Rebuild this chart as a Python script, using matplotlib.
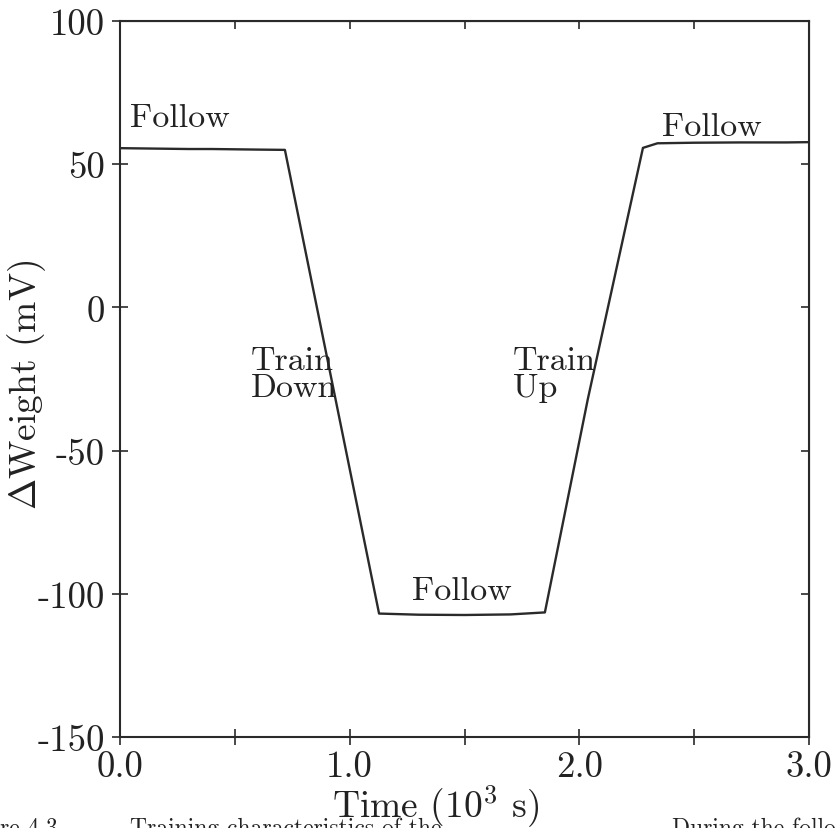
import matplotlib
matplotlib.use("Agg")
import matplotlib.pyplot as plt

plt.rcParams['font.family'] = ['cmr10', 'DejaVu Serif']
plt.rcParams['mathtext.fontset'] = 'cm'
plt.rcParams['axes.unicode_minus'] = False

time = [0.0, 0.1, 0.2, 0.3, 0.4, 0.5, 0.6, 0.718, 1.128, 1.3, 1.5, 1.7, 1.85,
        2.037, 2.277, 2.34, 2.5, 2.7, 2.9, 3.0]
weight = [55.6, 55.5, 55.4, 55.3, 55.3, 55.2, 55.1, 55.0, -106.9, -107.3, -107.4,
          -107.2, -106.5, -32.0, 55.7, 57.3, 57.5, 57.6, 57.6, 57.7]

xticks = [0.0, 1.0, 2.0, 3.0]
xticklabels = ['0.0', '1.0', '2.0', '3.0']
xminor = [0.5, 1.5, 2.5]
yticks = [-150, -100, -50, 0, 50, 100]
yticklabels = ['-150', '-100', '-50', '0', '50', '100']

labels = [("Follow", 0.044, 63.3), ("Follow", 2.36, 60.2), ("Follow", 1.271, -101.8),
          ("Train", 0.57, -21.5), ("Down", 0.57, -31.0),
          ("Train", 1.71, -21.5), ("Up", 1.71, -31.0)]

fig = plt.figure(figsize=(8.35, 8.29), dpi=100)
ax = fig.add_axes([120/835, 1-738/829, (809-120)/835, (738-22)/829])
ink = '#2a2a2a'
ax.plot(time, weight, color=ink, lw=1.7)
ax.set_xlim(0, 3)
ax.set_ylim(-150, 100)
ax.set_xticks(xticks)
ax.set_xticklabels(xticklabels)
ax.set_xticks(xminor, minor=True)
ax.set_yticks(yticks)
ax.set_yticklabels(yticklabels)
ax.tick_params(which='both', direction='inout', length=12, width=1.2, color=ink,
               labelsize=26.5, pad=5, labelcolor='#222222')
ax.tick_params(axis='x', which='both', pad=3)
for s in ax.spines.values():
    s.set_color(ink)
    s.set_linewidth(1.5)

# inward ticks on top and right
sx = ax.secondary_xaxis('top')
sx.set_xticks(xticks + xminor)
sx.set_xticklabels([])
sx.tick_params(direction='in', length=6, width=1.2, color=ink)
sy = ax.secondary_yaxis('right')
sy.set_yticks(yticks)
sy.set_yticklabels([])
sy.tick_params(direction='in', length=6, width=1.2, color=ink)

for txt, x, y in labels:
    ax.text(x, y, txt, fontsize=24.5, color='#222222', ha='left', va='baseline')

fig.text(27/835, 1-385/829, r'$\Delta$Weight (mV)', rotation=90, fontsize=27,
         ha='center', va='center', color='#222222')
fig.text(436/835, 1-818/829, r'Time ($10^3$ s)', fontsize=27, ha='center',
         va='baseline', color='#222222')

# clipped caption at the bottom edge of the scan
fig.text(0/835, -6/829, 're 4.3', fontsize=17, ha='left', va='baseline', color='#222222')
fig.text(130/835, -6/829, 'Training characteristics of the', fontsize=17,
         ha='left', va='baseline', color='#222222')
fig.text(672/835, -6/829, 'During the follo', fontsize=17, ha='left',
         va='baseline', color='#222222')

fig.savefig('out.png', dpi=100)
